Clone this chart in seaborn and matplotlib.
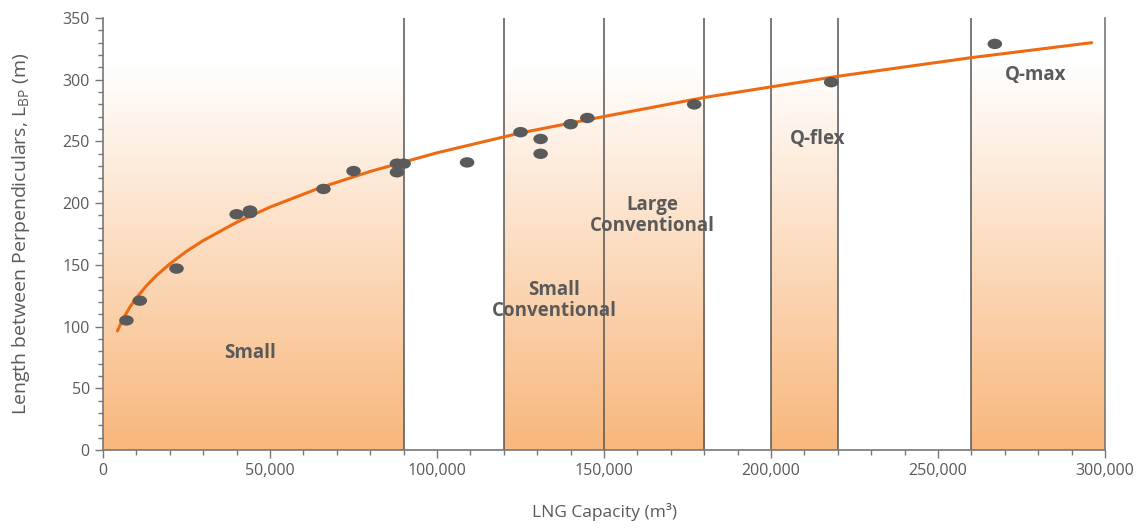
import matplotlib
matplotlib.use("Agg")
import matplotlib.pyplot as plt
import numpy as np
import pandas as pd
import seaborn as sns
from matplotlib.colors import LinearSegmentedColormap
from matplotlib.path import Path
from matplotlib.transforms import Affine2D

# ship data
capacity = [7000, 11000, 22000, 40000, 44000, 44000, 66000, 75000, 88000, 88000,
            90000, 109000, 125000, 131000, 131000, 140000, 145000, 177000, 218000, 267000]
lbp = [105, 121, 147, 191, 194, 192, 211.5, 226, 232, 225,
       232, 233, 257.5, 252, 240, 264, 269, 280, 298, 329]

# trend line
trend_x = [4300, 6000, 8000, 10000, 13000, 16000, 20000, 25000, 30000, 40000, 50000,
           65000, 80000, 100000, 125000, 150000, 180000, 220000, 260000, 296000]
trend_y = [96.5, 106.3, 115.6, 123.3, 133.1, 141.4, 150.8, 161.0, 169.7, 184.5, 196.8,
           212.5, 225.7, 240.8, 256.9, 270.2, 285.6, 302.8, 317.9, 330.0]

# shaded size classes and their dividers
bands = [(0, 90000), (120000, 180000), (200000, 220000), (260000, 300000)]
dividers = [90000, 120000, 150000, 180000, 200000, 220000, 260000]
class_labels = ["Small", "Small\nConventional", "Large\nConventional", "Q-flex", "Q-max"]
label_x = [44000, 135000, 164500, 213800, 279300]
label_y = [79, 121, 190, 252, 304]

sns.set_style("white")
plt.rcParams["font.family"] = ["Open Sans", "DejaVu Sans"]

GREY = "#5a5a5a"
fig = plt.figure(figsize=(11.41, 5.28), dpi=100)
ax = fig.add_axes([0.0903, 0.1477, 0.8782, 0.8182])

cmap = LinearSegmentedColormap.from_list("fade", ["#ffffff", "#f8b77c"])
grad = np.linspace(0, 1, 256).reshape(-1, 1)
for x0, x1 in bands:
    ax.imshow(grad, cmap=cmap, extent=[x0, x1, 0, 314], origin="upper",
              aspect="auto", zorder=0, interpolation="bilinear")

for x in dividers:
    ax.axvline(x, color="#555555", lw=1.1, zorder=1)

sns.lineplot(x=trend_x, y=trend_y, color="#ee6a12", lw=2.2, ax=ax, zorder=3)

oval = Path.unit_circle().transformed(Affine2D().scale(1.4, 1.0))
pts = pd.DataFrame({"capacity": capacity, "lbp": lbp})
sns.scatterplot(data=pts, x="capacity", y="lbp", marker=oval, s=110,
                color=GREY, edgecolor="none", ax=ax, zorder=4)

for txt, x, y in zip(class_labels, label_x, label_y):
    ax.text(x, y, txt, ha="center", va="center", fontsize=13.5,
            fontweight="bold", color=GREY, linespacing=1.1, zorder=5)

ax.set_xlim(0, 300000)
ax.set_ylim(0, 350)
ax.set_xticks(range(0, 300001, 50000))
ax.set_xticks(range(0, 300001, 10000), minor=True)
ax.set_xticklabels([f"{v:,}" for v in range(0, 300001, 50000)])
ax.set_yticks(range(0, 351, 50))
ax.set_yticks(range(0, 351, 10), minor=True)

ax.spines["top"].set_visible(False)
for side in ["left", "bottom", "right"]:
    ax.spines[side].set_color("#777777")
    ax.spines[side].set_linewidth(1.2)

ax.tick_params(axis="both", which="major", length=6, width=1, color="#777777",
               labelsize=11.5, labelcolor=GREY, direction="out")
ax.tick_params(axis="both", which="minor", length=3.5, width=1, color="#777777", direction="out")
ax.tick_params(axis="x", which="both", bottom=True)
ax.tick_params(axis="y", which="both", left=True, right=False)

ax.set_xlabel("LNG Capacity (m³)", fontsize=12.5, color=GREY, labelpad=17)
ax.set_ylabel("Length between Perpendiculars, L$_{\\mathregular{BP}}$ (m)",
              fontsize=14, color=GREY, labelpad=22)

fig.savefig("out.png", dpi=100)
